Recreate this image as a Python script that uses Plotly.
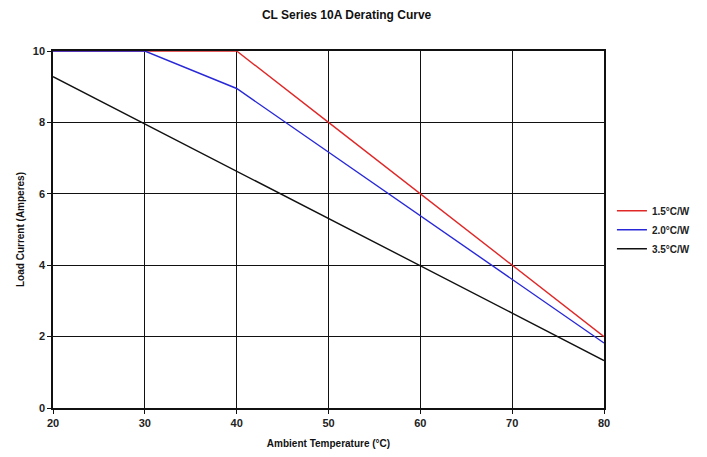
import plotly.graph_objects as go

temps = [20, 30, 40, 50, 60, 70, 80]
curve_15 = [10, 10, 10, 8.0, 6.0, 4.0, 2.0]
curve_20 = [10, 10, 8.95, 7.17, 5.38, 3.6, 1.82]
curve_35 = [9.28, 7.96, 6.64, 5.32, 4.0, 2.66, 1.33]
names = ["1.5°C/W", "2.0°C/W", "3.5°C/W"]
colors = ["#e02828", "#2828d8", "#111111"]

fig = go.Figure()
for name, ys, c in zip(names, [curve_15, curve_20, curve_35], colors):
    fig.add_trace(go.Scatter(x=temps, y=ys, mode="lines", name=name,
                             line=dict(color=c, width=1.4)))

font = "Liberation Sans, Arial, sans-serif"
fig.update_layout(
    width=691, height=441,
    margin=dict(l=45, r=95, t=43, b=41, autoexpand=False),
    paper_bgcolor="white", plot_bgcolor="white",
    title=dict(text="<b>CL Series 10A Derating Curve</b>", x=0.49, xanchor="center",
               y=0.985, yanchor="middle", font=dict(family=font, size=12, color="#111")),
    font=dict(family=font, color="#111"),
    legend=dict(xref="container", yref="container", x=0.874, y=0.497,
                xanchor="left", yanchor="middle",
                font=dict(family=font, size=10, color="#222", weight="bold"),
                bgcolor="rgba(0,0,0,0)", tracegroupgap=0, itemwidth=30),
    showlegend=True,
)
fig.update_xaxes(range=[20, 80], dtick=10, showgrid=True, gridcolor="#111", gridwidth=1.2,
                 showline=True, linecolor="#111", linewidth=1.5, mirror=True,
                 ticks="outside", ticklen=4, tickcolor="#111", zeroline=False, automargin=False,
                 tickfont=dict(family=font, size=11, color="#222", weight="bold"),
                 title=dict(text="<b>Ambient Temperature (°C)</b>", font=dict(family=font, size=10), standoff=16))
fig.update_yaxes(range=[0, 10], dtick=2, showgrid=True, gridcolor="#111", gridwidth=1.2,
                 showline=True, linecolor="#111", linewidth=1.5, mirror=True,
                 ticks="outside", ticklen=4, tickcolor="#111", zeroline=False, automargin=False,
                 tickfont=dict(family=font, size=11, color="#222", weight="bold"),
                 title=dict(text="<b>Load Current (Amperes)</b>", font=dict(family=font, size=10), standoff=6))

fig.write_html("out.html")
